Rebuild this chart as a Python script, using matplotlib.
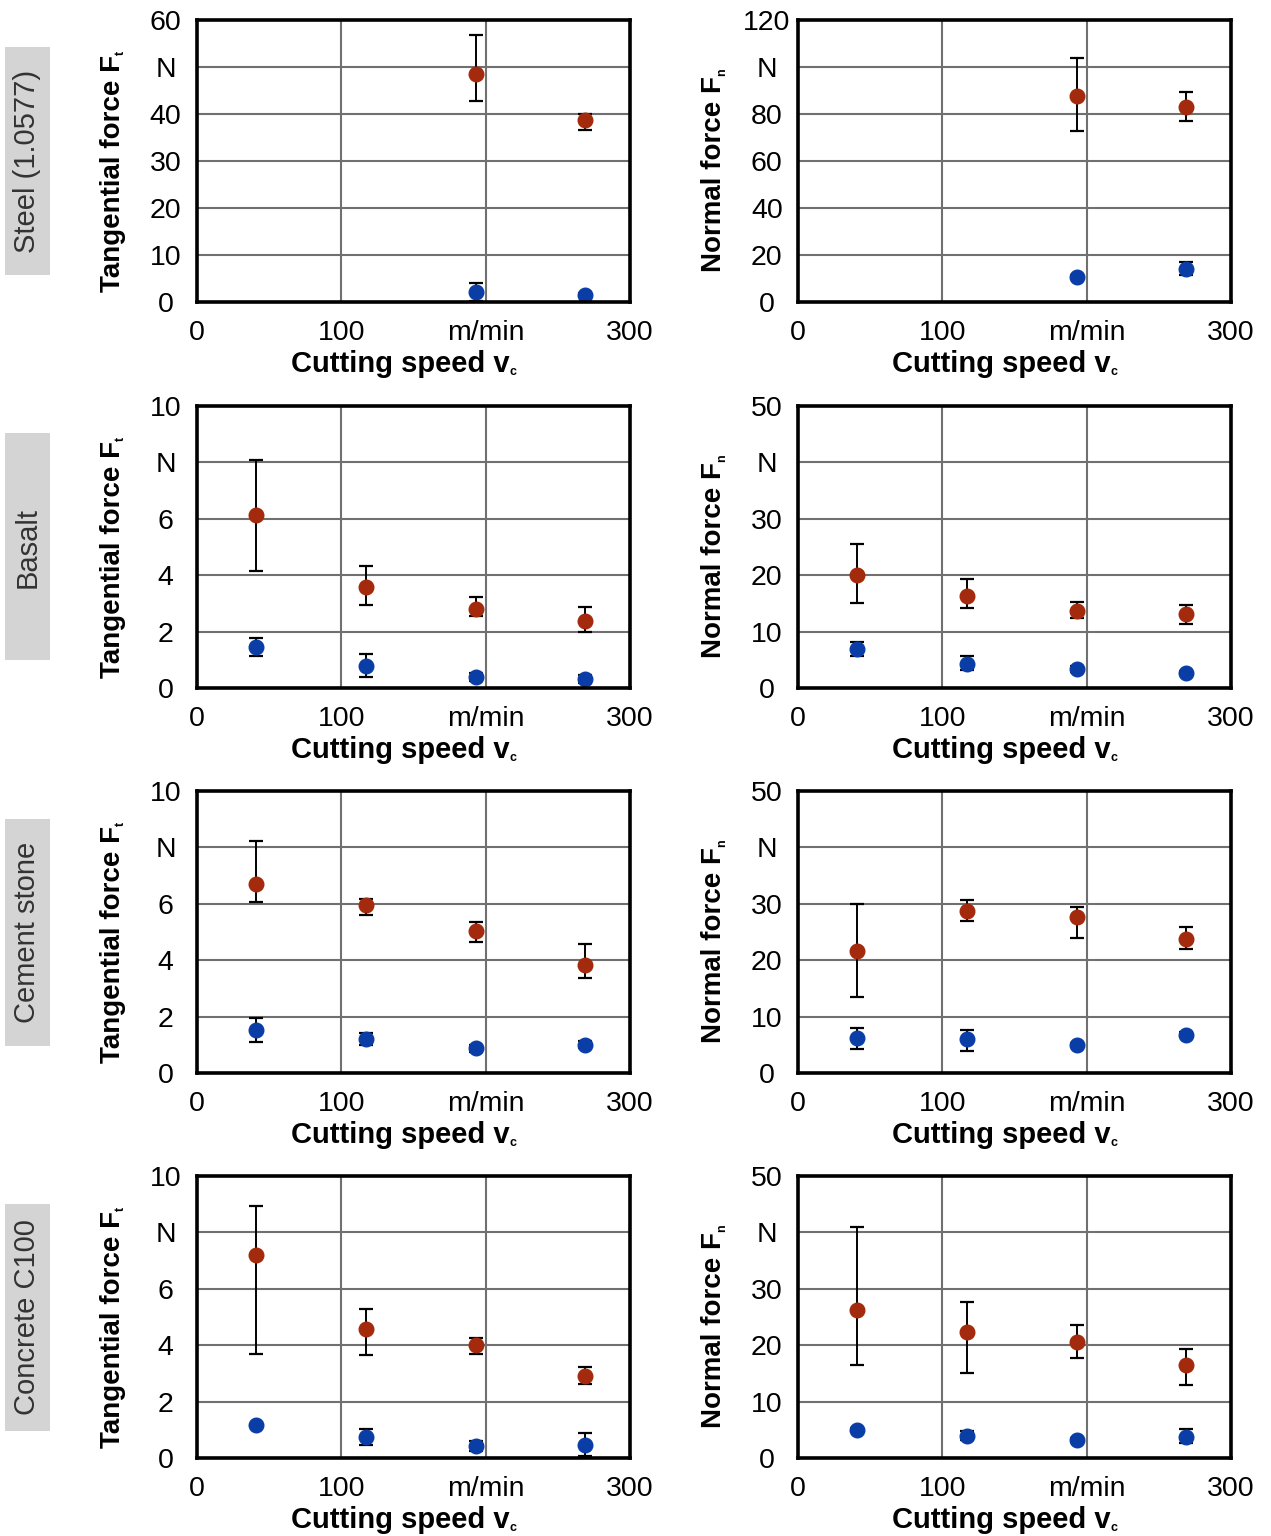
import numpy as np
import matplotlib
matplotlib.use("Agg")
from matplotlib import pyplot as plt
from matplotlib.patches import Rectangle

plt.rcParams['font.family'] = ['Liberation Sans', 'DejaVu Sans']

nan = np.nan
speed = [41, 117, 193, 269]
materials = ["Steel (1.0577)", "Basalt", "Cement stone", "Concrete C100"]

# red = upper series, blue = lower series; errors as (minus, plus)
steel_ft_red = [nan, nan, 48.5, 38.7]
steel_ft_red_err = [[0, 0, 5.7, 2.1], [0, 0, 8.3, 1.3]]
steel_ft_blue = [nan, nan, 2.1, 1.5]
steel_ft_blue_err = [[0, 0, 1.9, 0.4], [0, 0, 1.9, 0.4]]
steel_fn_red = [nan, nan, 87.7, 83.0]
steel_fn_red_err = [[0, 0, 14.9, 6.0], [0, 0, 16.1, 6.4]]
steel_fn_blue = [nan, nan, 10.6, 14.0]
steel_fn_blue_err = [[0, 0, 1.0, 2.5], [0, 0, 1.0, 3.0]]

basalt_ft_red = [6.12, 3.59, 2.81, 2.38]
basalt_ft_red_err = [[1.96, 0.64, 0.25, 0.39], [1.96, 0.75, 0.43, 0.5]]
basalt_ft_blue = [1.46, 0.78, 0.39, 0.32]
basalt_ft_blue_err = [[0.32, 0.39, 0.15, 0.15], [0.32, 0.43, 0.15, 0.15]]
basalt_fn_red = [20.1, 16.4, 13.7, 13.2]
basalt_fn_red_err = [[5.0, 2.2, 1.2, 1.8], [5.5, 3.0, 1.6, 1.6]]
basalt_fn_blue = [6.9, 4.3, 3.4, 2.7]
basalt_fn_blue_err = [[1.2, 1.1, 0.5, 0.3], [1.3, 1.4, 0.5, 0.3]]

cement_ft_red = [6.69, 5.94, 5.05, 3.84]
cement_ft_red_err = [[0.64, 0.32, 0.42, 0.46], [1.53, 0.22, 0.32, 0.75]]
cement_ft_blue = [1.53, 1.21, 0.89, 1.0]
cement_ft_blue_err = [[0.43, 0.2, 0.14, 0.1], [0.43, 0.2, 0.11, 0.15]]
cement_fn_red = [21.7, 28.8, 27.6, 23.7]
cement_fn_red_err = [[8.2, 1.9, 3.6, 1.8], [8.2, 1.8, 1.8, 2.1]]
cement_fn_blue = [6.2, 6.0, 5.0, 6.8]
cement_fn_blue_err = [[1.9, 2.1, 0.4, 0.5], [1.8, 1.7, 0.4, 0.5]]

concrete_ft_red = [7.19, 4.56, 3.99, 2.92]
concrete_ft_red_err = [[3.49, 0.89, 0.29, 0.29], [1.74, 0.71, 0.28, 0.32]]
concrete_ft_blue = [1.17, 0.75, 0.43, 0.46]
concrete_ft_blue_err = [[0.05, 0.29, 0.18, 0.39], [0.05, 0.28, 0.17, 0.43]]
concrete_fn_red = [26.3, 22.4, 20.6, 16.5]
concrete_fn_red_err = [[9.8, 7.3, 2.8, 3.5], [14.6, 5.2, 2.9, 2.9]]
concrete_fn_blue = [5.0, 3.9, 3.2, 3.7]
concrete_fn_blue_err = [[0.3, 0.7, 0.3, 1.0], [0.3, 0.9, 0.3, 1.5]]

ft_ticks = [[0, 10, 20, 30, 40, 50, 60], [0, 2, 4, 6, 8, 10], [0, 2, 4, 6, 8, 10], [0, 2, 4, 6, 8, 10]]
fn_ticks = [[0, 20, 40, 60, 80, 100, 120], [0, 10, 20, 30, 40, 50], [0, 10, 20, 30, 40, 50], [0, 10, 20, 30, 40, 50]]
x_ticks = [0, 100, 200, 300]
x_ticklabels = ["0", "100", "m/min", "300"]

ft_data = [
    (steel_ft_red, steel_ft_red_err, steel_ft_blue, steel_ft_blue_err),
    (basalt_ft_red, basalt_ft_red_err, basalt_ft_blue, basalt_ft_blue_err),
    (cement_ft_red, cement_ft_red_err, cement_ft_blue, cement_ft_blue_err),
    (concrete_ft_red, concrete_ft_red_err, concrete_ft_blue, concrete_ft_blue_err),
]
fn_data = [
    (steel_fn_red, steel_fn_red_err, steel_fn_blue, steel_fn_blue_err),
    (basalt_fn_red, basalt_fn_red_err, basalt_fn_blue, basalt_fn_blue_err),
    (cement_fn_red, cement_fn_red_err, cement_fn_blue, cement_fn_blue_err),
    (concrete_fn_red, concrete_fn_red_err, concrete_fn_blue, concrete_fn_blue_err),
]

RED = "#a32a0c"
BLUE = "#0a3ea6"
W, H = 1271, 1536

fig = plt.figure(figsize=(W / 100, H / 100), dpi=100)

tops = [20, 406, 791, 1176]
lefts = [197, 798]
aw, ah = 433, 282


def panel(ax, data, ticks, ylabel, sub):
    red, red_err, blue, blue_err = data
    for vals, err, col in [(red, red_err, RED), (blue, blue_err, BLUE)]:
        ax.errorbar(speed, vals, yerr=err, fmt="none", ecolor="black",
                    elinewidth=1.4, capsize=5, capthick=1.6, zorder=3)
        ax.plot(speed, vals, "o", color=col, markersize=10.5, zorder=4)
    ax.set_xlim(0, 300)
    ax.set_ylim(ticks[0], ticks[-1])
    ax.set_xticks(x_ticks)
    ax.set_xticklabels(x_ticklabels)
    ax.set_yticks(ticks)
    labels = [str(t) for t in ticks]
    labels[-2] = "N"
    ax.set_yticklabels(labels, ha="center")
    ax.grid(True, color="#707070", linewidth=1.5, zorder=1)
    ax.set_axisbelow(True)
    for s in ax.spines.values():
        s.set_linewidth(2.6)
        s.set_color("black")
        s.set_zorder(5)
    ax.tick_params(axis="both", length=0, labelsize=20.5)
    ax.tick_params(axis="y", pad=22.5)
    ax.tick_params(axis="x", pad=13)
    ax.set_xlabel("Cutting speed v", fontsize=21, fontweight="bold")
    ax.xaxis.set_label_coords(0.47, -0.17)
    ax.xaxis.label.set_va("top")
    ax.set_ylabel(ylabel, fontsize=20, fontweight="bold")
    ax.yaxis.set_label_coords(-0.163, 0.455)
    ax.annotate("c", xy=(1.0, 0.2), xycoords=ax.xaxis.label, fontsize=9,
                fontweight="bold", ha="left", va="center")
    ax.annotate(sub, xy=(0.78, 1.0), xycoords=ax.yaxis.label, fontsize=9,
                fontweight="bold", ha="center", va="bottom", rotation=90)


for i in range(4):
    b = 1 - (tops[i] + ah) / H
    ax1 = fig.add_axes([lefts[0] / W, b, aw / W, ah / H])
    panel(ax1, ft_data[i], ft_ticks[i], "Tangential force F", "t")
    ax2 = fig.add_axes([lefts[1] / W, b, aw / W, ah / H])
    panel(ax2, fn_data[i], fn_ticks[i], "Normal force F", "n")

    cy = tops[i] + ah / 2
    fig.patches.append(Rectangle((5 / W, 1 - (cy + 113.5) / H), 45 / W, 227 / H,
                                 transform=fig.transFigure, facecolor="#d4d4d4",
                                 edgecolor="none"))
    fig.text(27.5 / W, 1 - cy / H, materials[i], rotation=90, ha="center",
             va="center", fontsize=21, color="#333333")

fig.savefig("out.png", dpi=100)
